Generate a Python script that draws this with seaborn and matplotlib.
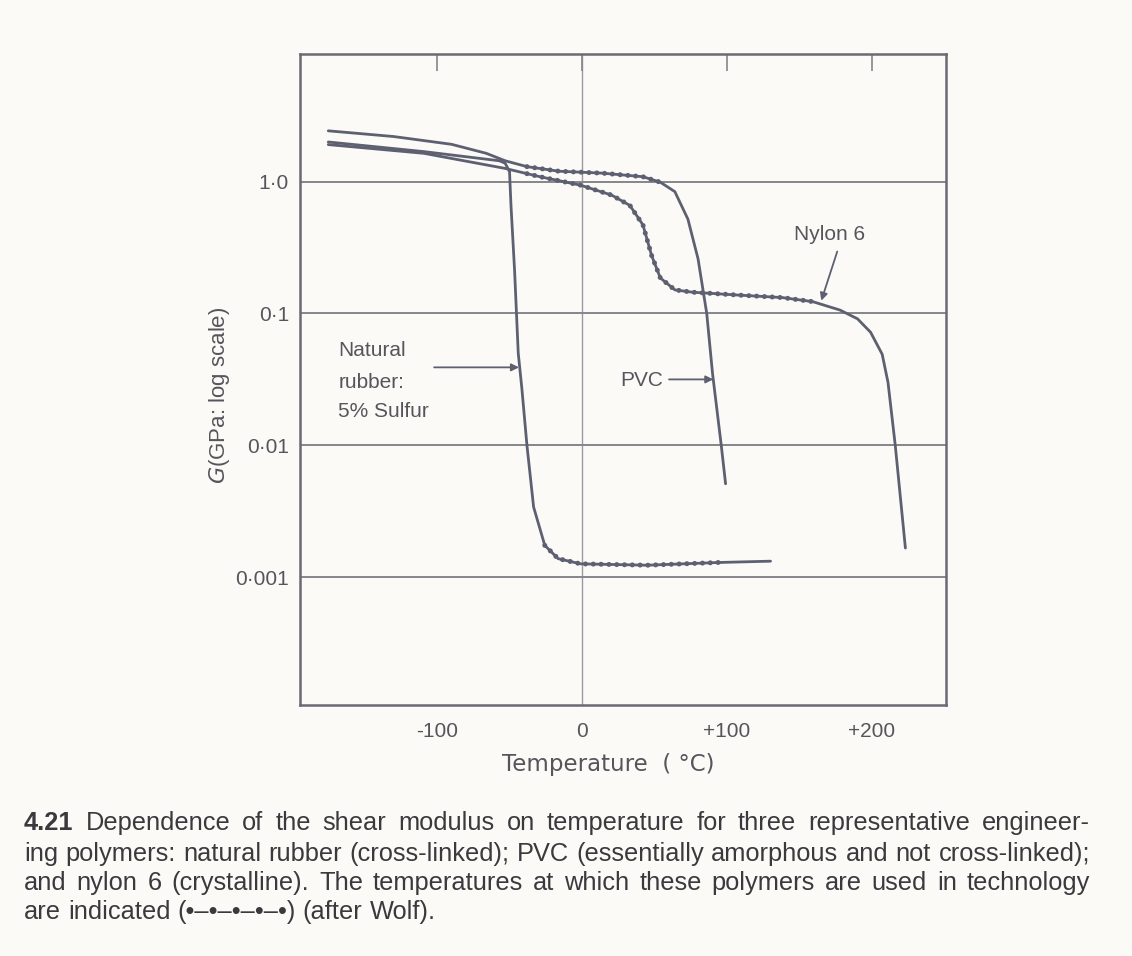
import matplotlib
matplotlib.use("Agg")
import matplotlib.pyplot as plt
import numpy as np
import pandas as pd
import seaborn as sns

# ---------------- data ----------------
pvc_T = [-175, -130, -90, -66, -53, -38, -16, 14, 42, 54, 64, 73, 80, 86, 90, 96, 99]
pvc_G = [2.43, 2.20, 1.92, 1.64, 1.44, 1.30, 1.20, 1.16, 1.09, 0.99, 0.84, 0.52,
         0.26, 0.100, 0.035, 0.010, 0.0051]
pvc_use = (5, 9)          # index range used in technology (dotted)

rubber_T = [-175, -109, -57, -53, -50, -49, -46.5, -44, -41.5, -38, -33.4, -25.7,
            -16.5, -1, 45, 94, 130]
rubber_G = [2.0, 1.69, 1.44, 1.38, 1.19, 0.66, 0.21, 0.050, 0.027, 0.010, 0.0034,
            0.00174, 0.00138, 0.00126, 0.00123, 0.00129, 0.00132]
rubber_use = (11, 15)

nylon_T = [-175, -109, -53, -38, -29, -1, 20.5, 33, 42, 48, 54, 64, 76, 107, 138,
           159, 178, 190, 199, 207, 211, 216, 223]
nylon_G = [1.91, 1.64, 1.26, 1.15, 1.09, 0.94, 0.79, 0.66, 0.47, 0.275, 0.186, 0.151,
           0.145, 0.138, 0.132, 0.123, 0.106, 0.091, 0.072, 0.049, 0.030, 0.010, 0.00166]
nylon_use = (3, 15)

ytick_vals = [0.001, 0.01, 0.1, 1.0]
ytick_labels = ["0·001", "0·01", "0·1", "1·0"]
xtick_vals = [-100, 0, 100, 200]
xtick_labels = ["-100", "0", "+100", "+200"]

caption_number = "4.21"
caption_lines = [
    "Dependence of the shear modulus on temperature for three representative engineer-",
    "ing polymers: natural rubber (cross-linked); PVC (essentially amorphous and not cross-linked);",
    "and nylon 6 (crystalline). The temperatures at which these polymers are used in technology",
    "are indicated (\u2022\u2013\u2022\u2013\u2022\u2013\u2022\u2013\u2022) (after Wolf).",
]

# ---------------- styling ----------------
BG = "#fcfaf7"
INK = "#5d6070"
GRID = "#85858d"
TXT = "#55555c"

sns.set_style("white")
plt.rcParams["font.family"] = ["Liberation Sans", "DejaVu Sans"]

W, H = 1132, 956
fig = plt.figure(figsize=(W / 100, H / 100), dpi=100, facecolor=BG)
ax = fig.add_axes([300 / W, 1 - 705 / H, 646 / W, 651 / H])
ax.set_facecolor(BG)

series = {"PVC": (pvc_T, pvc_G, pvc_use),
          "Natural rubber": (rubber_T, rubber_G, rubber_use),
          "Nylon 6": (nylon_T, nylon_G, nylon_use)}

full = pd.concat([pd.DataFrame({"T": t, "G": g, "polymer": k})
                  for k, (t, g, u) in series.items()], ignore_index=True)
dots = pd.concat([pd.DataFrame({"T": t[u[0]:u[1] + 1], "G": g[u[0]:u[1] + 1], "polymer": k})
                  for k, (t, g, u) in series.items()], ignore_index=True)
pal = {k: INK for k in series}

sns.lineplot(data=full, x="T", y="G", hue="polymer", palette=pal, sort=False,
             estimator=None, legend=False, linewidth=2.0, ax=ax)
sns.lineplot(data=dots, x="T", y="G", hue="polymer", palette=pal, sort=False,
             estimator=None, legend=False, linewidth=3.6, ax=ax,
             linestyle=(0, (0.01, 1.55)), dash_capstyle="round")

ax.set_yscale("log")
ax.set_xlim(-194.5, 251)
ax.set_ylim(1.07e-4, 9.3)

ax.set_yticks(ytick_vals)
ax.set_yticklabels(ytick_labels)
ax.yaxis.set_minor_locator(matplotlib.ticker.NullLocator())
ax.set_xticks(xtick_vals)
ax.set_xticklabels(xtick_labels)

ax.yaxis.grid(True, color=GRID, linewidth=1.4)
ax.xaxis.grid(False)
ax.axvline(0, color="#9a9aa2", linewidth=1.0, zorder=0)
ax.set_axisbelow(True)

ax.tick_params(axis="x", direction="in", length=12, width=1.2, colors=GRID,
               top=True, labelcolor=TXT, labelsize=15, pad=12)
ax.tick_params(axis="y", length=0, labelcolor=TXT, labelsize=15, pad=8)
for s in ax.spines.values():
    s.set_color("#6a6a74")
    s.set_linewidth(1.8)

ax.set_xlabel("Temperature  ( \u00b0C)", fontsize=16.5, color=TXT, family="DejaVu Sans")
ax.xaxis.set_label_coords((608 - 300) / 646, -(765 - 705) / 651)
ax.xaxis.label.set_va("center")
ax.set_ylabel("$\\mathit{G}$(GPa: log scale)", fontsize=16, color=TXT)
ax.yaxis.set_label_coords((220 - 300) / 646, (705 - 395) / 651)
ax.yaxis.label.set_va("center")

# ---------------- annotations ----------------
arrow = dict(arrowstyle="-|>", color=INK, lw=1.3, mutation_scale=11,
             shrinkA=0, shrinkB=0)
ax.text(-168, 0.052, "Natural", fontsize=15, color=TXT, va="center", ha="left")
ax.text(-168, 0.0300, "rubber:", fontsize=15, color=TXT, va="center", ha="left")
ax.text(-168, 0.0180, "5% Sulfur", fontsize=15, color=TXT, va="center", ha="left")
ax.annotate("", xy=(-43.5, 0.039), xytext=(-102, 0.039), arrowprops=arrow)

ax.text(56, 0.031, "PVC", fontsize=15, color=TXT, va="center", ha="right")
ax.annotate("", xy=(90.5, 0.0316), xytext=(60, 0.0316), arrowprops=arrow)

ax.text(171, 0.40, "Nylon 6", fontsize=15, color=TXT, va="center", ha="center")
ax.annotate("", xy=(165, 0.125), xytext=(176, 0.295), arrowprops=arrow)

# ---------------- caption (justified) ----------------
cap_color = "#3a3a3e"
x0, x1 = 24, 1090
y_lines = [823, 854, 883, 912]
fig.canvas.draw()
r = fig.canvas.get_renderer()


def text_width(s, size, **kw):
    t = fig.text(0.0, 0.0, s, fontsize=size, **kw)
    w = t.get_window_extent(renderer=r).width
    t.remove()
    return w


# choose the font size so the longest line (at natural spacing) fills the width
ref = 16.0
longest = max(text_width(caption_number + " " + caption_lines[0], ref),
              *[text_width(l, ref) for l in caption_lines[1:]])
fs = ref * (x1 - x0) / longest * 0.995

for i, line in enumerate(caption_lines):
    words = line.split(" ")
    styles = [{} for _ in words]
    if i == 0:
        words = [caption_number] + words
        styles = [{"fontweight": "bold"}] + styles
    widths = [text_width(w, fs, **st) for w, st in zip(words, styles)]
    space = text_width("a a", fs) - text_width("aa", fs)
    if i < len(caption_lines) - 1:
        gap = (x1 - x0 - sum(widths)) / (len(words) - 1)
    else:
        gap = space
    x = x0
    for w, st, wd in zip(words, styles, widths):
        fig.text(x / W, 1 - y_lines[i] / H, w, fontsize=fs, color=cap_color,
                 va="center", ha="left", **st)
        x += wd + gap

fig.savefig("out.png", dpi=100, facecolor=BG)
